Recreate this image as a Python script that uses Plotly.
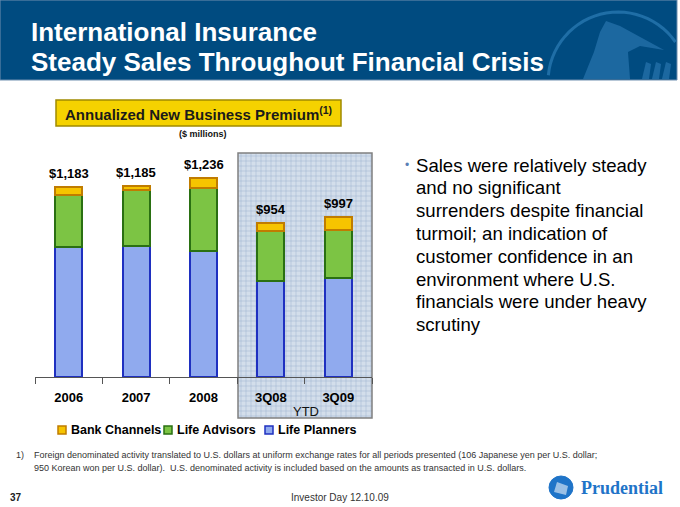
import numpy as np
import plotly.graph_objects as go

W, H = 680, 507

categories = ["2006", "2007", "2008", "3Q08", "3Q09"]
life_planners = [806, 816, 783, 599, 617]
life_advisors = [324, 345, 393, 310, 295]
bank_channels = [53, 24, 60, 45, 85]
totals = [1183, 1185, 1236, 954, 997]

series_names = ["Life Planners", "Life Advisors", "Bank Channels"]
series_fill = ["#90aaee", "#7cc444", "#f6c400"]
series_edge = ["#1f30c0", "#2a7012", "#c07c00"]

bullet_lines = [
    "Sales were relatively steady",
    "and no significant",
    "surrenders despite financial",
    "turmoil; an indication of",
    "customer confidence in an",
    "environment where U.S.",
    "financials were under heavy",
    "scrutiny",
]

footnote_lines = [
    "Foreign denominated activity translated to U.S. dollars at uniform exchange rates for all periods presented (106 Japanese yen per U.S. dollar;",
    "950 Korean won per U.S. dollar).  U.S. denominated activity is included based on the amounts as transacted in U.S. dollars.",
]

FONT = "Liberation Sans, Arial, sans-serif"


def px(x):
    return x / W


def py(y):
    return 1 - y / H


def label(x, y, text, size, color="black", xa="center", ya="middle", family=FONT):
    return dict(x=px(x), y=py(y), xref="paper", yref="paper", showarrow=False,
                xanchor=xa, yanchor=ya, text=text,
                font=dict(family=family, size=size, color=color))


fig = go.Figure()
for vals, name, fc, ec in zip([life_planners, life_advisors, bank_channels],
                              series_names, series_fill, series_edge):
    fig.add_trace(go.Bar(
        x=categories, y=vals, name=name, width=0.4, showlegend=False,
        marker=dict(color=fc, line=dict(color=ec, width=2)),
    ))

shapes = []
annotations = []

# title banner
shapes.append(dict(type="rect", xref="paper", yref="paper",
                   x0=0, x1=px(677), y0=py(80), y1=1,
                   fillcolor="#004b80", line=dict(color="#7090b0", width=1), layer="below"))
t = np.linspace(np.pi * 1.08, 0.0, 40)
cx, cy, r = 618, 82, 70
pts = [(cx + r * np.cos(a), cy - r * np.sin(a)) for a in t]
pts = [(x, y) for x, y in pts if y <= 79 and x <= 676]
shapes.append(dict(type="path", xref="paper", yref="paper",
                   path="M " + " L ".join(f"{px(x):.4f},{py(y):.4f}" for x, y in pts),
                   line=dict(color="#1f6ea6", width=3), layer="below"))
rock = [(583, 79), (594, 52), (600, 32), (606, 21), (620, 26), (642, 38), (664, 50),
        (640, 46), (628, 52), (630, 79)]
shapes.append(dict(type="path", xref="paper", yref="paper",
                   path="M " + " L ".join(f"{px(x):.4f},{py(y):.4f}" for x, y in rock) + " Z",
                   fillcolor="#1c68a0", line=dict(width=0), layer="below"))
for x0 in (642, 652, 662):
    shapes.append(dict(type="path", xref="paper", yref="paper",
                       path=f"M {px(x0):.4f},{py(79):.4f} L {px(x0 + 4):.4f},{py(62):.4f} "
                            f"L {px(x0 + 9):.4f},{py(64):.4f} L {px(x0 + 7):.4f},{py(79):.4f} Z",
                       fillcolor="#1c68a0", line=dict(width=0), layer="below"))

annotations.append(label(29, 32, "<b>International Insurance</b>", 26, "white", xa="left"))
annotations.append(label(29, 62, "<b>Steady Sales Throughout Financial Crisis</b>", 26,
                         "white", xa="left"))

# yellow heading box
shapes.append(dict(type="rect", xref="paper", yref="paper",
                   x0=px(56), x1=px(341), y0=py(126), y1=py(100),
                   fillcolor="#f5d200", line=dict(color="#a08a00", width=1.5), layer="below"))
annotations.append(label(198, 113, "<b>Annualized New Business Premium<sup>(1)</sup></b>",
                         15, "#1a1a1a"))
annotations.append(label(203, 134, "<b>($ millions)</b>", 9, "#111"))

# shaded YTD box with grid texture
bx0, bx1, by0, by1 = 238, 372, 153, 418
shapes.append(dict(type="rect", xref="paper", yref="paper",
                   x0=px(bx0), x1=px(bx1), y0=py(by1), y1=py(by0),
                   fillcolor="#d3deeb", line=dict(width=0), layer="below"))
for gx in range(bx0 + 3, bx1, 5):
    shapes.append(dict(type="line", xref="paper", yref="paper", x0=px(gx), x1=px(gx),
                       y0=py(by1), y1=py(by0), line=dict(color="rgba(150,175,205,0.45)", width=1),
                       layer="below"))
for gy in range(by0 + 3, by1, 5):
    shapes.append(dict(type="line", xref="paper", yref="paper", x0=px(bx0), x1=px(bx1),
                       y0=py(gy), y1=py(gy), line=dict(color="rgba(150,175,205,0.45)", width=1),
                       layer="below"))
shapes.append(dict(type="rect", xref="paper", yref="paper",
                   x0=px(bx0), x1=px(bx1), y0=py(by1), y1=py(by0),
                   fillcolor="rgba(0,0,0,0)", line=dict(color="#808080", width=1.5), layer="below"))
annotations.append(label(306, 411, "YTD", 13, "#111"))

# total labels above bars (x given as category index)
for i, tot in enumerate(totals):
    annotations.append(dict(x=i, y=tot, xref="x", yref="y", showarrow=False,
                            xanchor="center", yanchor="bottom", yshift=4, text=f"<b>${tot:,}</b>",
                            font=dict(family=FONT, size=13, color="black")))

# legend drawn below the chart
legend_x = [62, 168, 269]
for i, lx in zip([2, 1, 0], legend_x):
    shapes.append(dict(type="rect", xref="paper", yref="paper",
                       x0=px(lx - 4), x1=px(lx + 4), y0=py(434), y1=py(426),
                       fillcolor=series_fill[i], line=dict(color=series_edge[i], width=1.5)))
    annotations.append(label(lx + 7, 430, f"<b>{series_names[i]}</b>", 12.5, xa="left"))

# right-hand bullet text
annotations.append(label(403, 165, "•", 12, "#5b7fb5", xa="left"))
for i, line in enumerate(bullet_lines):
    annotations.append(label(414, 165 + 22.8 * i, line, 18.6, xa="left"))

# footnote and footer
annotations.append(label(14, 455, "1)", 9, "#333", xa="left"))
for i, line in enumerate(footnote_lines):
    annotations.append(label(32, 455 + 12.5 * i, line, 9, "#333", xa="left"))
annotations.append(label(8, 497, "<b>37</b>", 10, "#222", xa="left"))
annotations.append(label(340, 497, "Investor Day 12.10.09", 10, "#333"))

# Prudential logo
shapes.append(dict(type="circle", xref="paper", yref="paper",
                   x0=px(549), x1=px(573), y0=py(499), y1=py(476),
                   fillcolor="#1f74c8", line=dict(color="#1f74c8", width=1)))
shapes.append(dict(type="path", xref="paper", yref="paper",
                   path=f"M {px(554):.4f},{py(492):.4f} L {px(557):.4f},{py(482):.4f} "
                        f"L {px(568):.4f},{py(486):.4f} L {px(566):.4f},{py(495):.4f} Z",
                   fillcolor="rgba(255,255,255,0.55)", line=dict(width=0)))
annotations.append(label(579, 488, "<b>Prudential</b>", 18, "#1f74c8", xa="left",
                         family="Liberation Serif, Times New Roman, serif"))

fig.update_layout(
    width=W, height=H,
    margin=dict(l=0, r=0, t=0, b=0),
    paper_bgcolor="white",
    plot_bgcolor="rgba(0,0,0,0)",
    barmode="stack",
    showlegend=False,
    shapes=shapes,
    annotations=annotations,
    xaxis=dict(type="category", categoryorder="array", categoryarray=categories,
               range=[-0.5, 4.5], domain=[px(35), px(372)], showgrid=False, showline=True,
               linecolor="#555", linewidth=1, ticks="outside", tickson="boundaries",
               ticklen=6, tickcolor="#555", ticklabelstandoff=8,
               tickfont=dict(family=FONT, size=13, color="black", weight="bold"),
               fixedrange=True),
    yaxis=dict(domain=[py(377.3), py(153)], range=[0, 1391], visible=False, fixedrange=True),
    font=dict(family=FONT),
)

fig.write_html("out.html", config={"displayModeBar": False},
               post_script="document.body.style.margin='0';")
